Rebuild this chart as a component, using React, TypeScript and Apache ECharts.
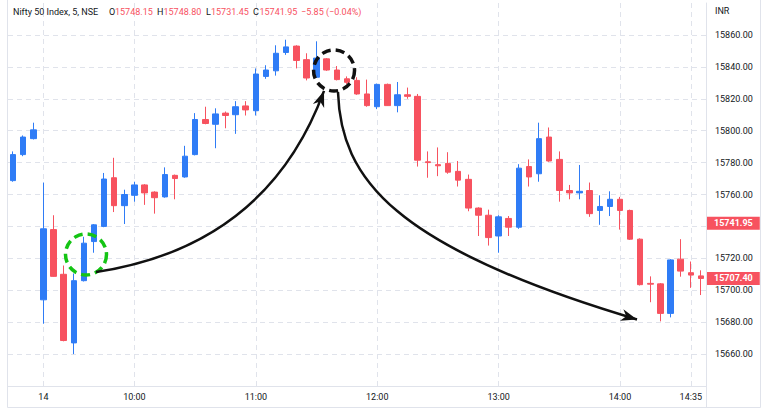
import React, { useEffect, useRef } from 'react';
import * as echarts from 'echarts';

const CATEGORIES = [
  '15:15', '15:20', '15:25',
  '09:15', '09:20', '09:25', '09:30', '09:35', '09:40', '09:45', '09:50', '09:55',
  '10:00', '10:05', '10:10', '10:15', '10:20', '10:25', '10:30', '10:35', '10:40', '10:45', '10:50', '10:55',
  '11:00', '11:05', '11:10', '11:15', '11:20', '11:25', '11:30', '11:35', '11:40', '11:45', '11:50', '11:55',
  '12:00', '12:05', '12:10', '12:15', '12:20', '12:25', '12:30', '12:35', '12:40', '12:45', '12:50', '12:55',
  '13:00', '13:05', '13:10', '13:15', '13:20', '13:25', '13:30', '13:35', '13:40', '13:45', '13:50', '13:55',
  '14:00', '14:05', '14:10', '14:15', '14:20', '14:25', '14:30', '14:35', '14:40',
];

const OPEN = [
  15768.7, 15785, 15795, 15694, 15738, 15710, 15667, 15706, 15730.5, 15740,
  15770.5, 15753, 15759.5, 15766, 15761.5, 15758.5, 15772, 15771, 15785, 15807,
  15804, 15811, 15810, 15815.5, 15812.5, 15834, 15837.5, 15849, 15853, 15844.5,
  15833.5, 15845, 15838, 15832.5, 15831.5, 15823, 15815, 15829, 15815.7, 15822.5,
  15821.5, 15780.5, 15778.7, 15779.5, 15774.5, 15769.5, 15751.5, 15747, 15734, 15745,
  15739.5, 15777.5, 15773, 15796, 15782, 15762.5, 15761, 15762.5, 15750, 15752.5,
  15757, 15750, 15732, 15704.3, 15704, 15685.5, 15719.5, 15711, 15709,
];
const HIGH = [
  15787, 15797, 15805, 15767.5, 15747, 15715.5, 15710.5, 15733.5, 15741.5, 15773.5,
  15783, 15763, 15768, 15766.5, 15762, 15777, 15772.5, 15790.5, 15811, 15815,
  15814, 15812, 15818.5, 15818.5, 15839, 15841, 15853.5, 15857, 15853.5, 15848.5,
  15856, 15845.5, 15840.5, 15834, 15833.5, 15832, 15829.5, 15829.5, 15830.5, 15827,
  15823, 15787, 15789.5, 15786.5, 15781, 15772.5, 15752, 15750.5, 15747, 15746.5,
  15779, 15782, 15805, 15802, 15787, 15766, 15778.5, 15767.5, 15759.5, 15762,
  15758.5, 15750.5, 15732.5, 15708.7, 15704.5, 15719.5, 15732, 15718, 15712.5,
];
const LOW = [
  15768, 15784, 15794.5, 15679, 15708.5, 15668, 15660, 15705.5, 15723.5, 15739.5,
  15749, 15741.5, 15755.5, 15753.5, 15748, 15758, 15757, 15770.5, 15784.5, 15804,
  15789, 15801.5, 15798, 15809.5, 15809.5, 15832.5, 15834.5, 15847.5, 15839, 15831.5,
  15833, 15837.5, 15831.5, 15829.3, 15822.5, 15815, 15813.5, 15815.5, 15811.5, 15820,
  15777.5, 15770.5, 15771.5, 15773, 15765, 15749.5, 15734, 15728, 15723.5, 15734,
  15738.5, 15765, 15768, 15780.5, 15755.5, 15757, 15757, 15746, 15741, 15746.5,
  15738, 15731.5, 15703, 15692.5, 15680.5, 15683, 15708.5, 15701.5, 15697,
];
const CLOSE = [
  15785, 15796, 15800.5, 15738.5, 15708.7, 15668.5, 15706, 15729.5, 15741, 15769.7,
  15753, 15760, 15766, 15761, 15758, 15772.5, 15770, 15784, 15807, 15804.5,
  15810.5, 15809.5, 15815, 15813, 15835.5, 15838, 15848.5, 15852.5, 15844, 15833,
  15845.5, 15838, 15832, 15830.3, 15823, 15815.7, 15829, 15815.7, 15822.5, 15821.5,
  15781.5, 15780, 15778, 15774, 15769, 15751.5, 15747, 15733, 15746, 15739.5,
  15776.5, 15771, 15795, 15781, 15762.5, 15761, 15762, 15748, 15752.5, 15757,
  15750, 15732, 15703.5, 15703.8, 15685.5, 15719, 15712, 15709.5, 15707.4,
];

const X_TICKS = ['09:15', '10:00', '11:00', '12:00', '13:00', '14:00', '14:35'];
const X_TICK_TEXT = ['14', '10:00', '11:00', '12:00', '13:00', '14:00', '14:35'];

const Y_MIN = 15640;
const Y_MAX = 15880;
const Y_STEP = 20;

const PRICE_TAGS = [15741.95, 15707.4];

const HEADER_TITLE = 'Nifty 50 Index, 5, NSE';
const HEADER_O = '15748.15';
const HEADER_H = '15748.80';
const HEADER_L = '15731.45';
const HEADER_C = '15741.95';
const HEADER_CHG = '\u22125.85 (\u22120.04%)';
const CURRENCY = 'INR';

// annotation anchors in data space: [category index, value]
const GREEN_CIRCLE = [7.21, 15722.4];
const BLACK_CIRCLE = [31.73, 15837.7];
const ARROW1 = { start: [8.2, 15711.4], ctrl: [25.1, 15727.7], tip: [30.74, 15824.9] };
const ARROW2 = { start: [32.12, 15824.2], cp1: [32.4, 15770], cp2: [37.6, 15727], tip: [61.68, 15681.7] };

const BLUE = '#2f7cf6';
const RED = '#f7525f';
const GRID = '#e0e3eb';
const TEXT = '#131722';
const FONT = 'Roboto, "Liberation Sans", sans-serif';

function arrowHead(tip: number[], from: number[], L: number, W: number) {
  const dx = tip[0] - from[0];
  const dy = tip[1] - from[1];
  const len = Math.hypot(dx, dy);
  const ux = dx / len, uy = dy / len;
  const nx = -uy, ny = ux;
  const bx = tip[0] - ux * L, by = tip[1] - uy * L;
  return [
    [tip[0], tip[1]],
    [bx + nx * W, by + ny * W],
    [tip[0] - ux * L * 0.7, tip[1] - uy * L * 0.7],
    [bx - nx * W, by - ny * W],
  ];
}

export default function App() {
  const ref = useRef<HTMLDivElement>(null);
  useEffect(() => {
    document.body.style.margin = '0';
    const chart = echarts.init(ref.current!, null, { renderer: 'svg' });
    const data = OPEN.map((o, i) => [o, CLOSE[i], LOW[i], HIGH[i]]);
    chart.setOption({
      animation: false,
      backgroundColor: '#ffffff',
      grid: { left: 8, right: 62, top: 3, bottom: 23 },
      xAxis: {
        type: 'category',
        data: CATEGORIES,
        boundaryGap: true,
        axisLine: { show: true, lineStyle: { color: GRID, width: 1 } },
        axisTick: { show: false },
        axisLabel: {
          interval: (_i: number, v: string) => X_TICKS.includes(v),
          formatter: (v: string) => {
            const k = X_TICKS.indexOf(v);
            return k >= 0 ? X_TICK_TEXT[k] : '';
          },
          color: TEXT,
          fontSize: 9,
          fontFamily: FONT,
          margin: 6,
        },
        splitLine: {
          show: true,
          alignWithLabel: true,
          interval: (_i: number, v: string) => X_TICKS.includes(v),
          lineStyle: { color: GRID, type: [5, 4], width: 1 },
        },
      },
      yAxis: {
        type: 'value',
        position: 'right',
        min: Y_MIN,
        max: Y_MAX,
        interval: Y_STEP,
        axisLine: { show: true, lineStyle: { color: GRID, width: 1 } },
        axisTick: { show: false },
        axisLabel: {
          color: TEXT,
          fontSize: 9,
          fontFamily: FONT,
          margin: 9,
          // a label hidden under a price tag is not drawn, as in the reference
          formatter: (v: number) =>
            v === Y_MIN || v === Y_MAX || PRICE_TAGS.some((t) => Math.abs(t - v) < 5) ? '' : v.toFixed(2),
        },
        splitLine: {
          show: true,
          showMaxLine: false,
          showMinLine: false,
          lineStyle: { color: GRID, type: [5, 4], width: 1 },
        },
      },
      series: [
        {
          type: 'candlestick',
          data,
          barWidth: 6,
          clip: false,
          itemStyle: {
            color: BLUE,
            color0: RED,
            borderColor: BLUE,
            borderColor0: RED,
            borderWidth: 1,
          },
          markLine: {
            silent: true,
            symbol: ['none', 'none'],
            lineStyle: { color: 'rgba(0,0,0,0)', width: 0, type: 'solid' },
            label: {
              show: true,
              position: 'end',
              distance: 1,
              backgroundColor: RED,
              color: '#ffffff',
              fontSize: 9,
              fontWeight: 'bold',
              fontFamily: FONT,
              padding: [2, 7, 2, 7],
              formatter: (p: any) => Number(p.value).toFixed(2),
            },
            data: PRICE_TAGS.map((v) => ({ yAxis: v })),
          },
        },
      ],
    });

    const x0 = chart.convertToPixel({ xAxisIndex: 0 }, CATEGORIES[0]) as number;
    const x1 = chart.convertToPixel({ xAxisIndex: 0 }, CATEGORIES[1]) as number;
    const P = (p: number[]) => [x0 + p[0] * (x1 - x0), chart.convertToPixel({ yAxisIndex: 0 }, p[1]) as number];

    const gc = P(GREEN_CIRCLE);
    const bc = P(BLACK_CIRCLE);
    const a1s = P(ARROW1.start), a1c = P(ARROW1.ctrl), a1t = P(ARROW1.tip);
    const a2s = P(ARROW2.start), a2c1 = P(ARROW2.cp1), a2c2 = P(ARROW2.cp2), a2t = P(ARROW2.tip);

    const hdr = (x: number, text: string, fill: string) => ({
      type: 'text', x, y: 12,
      style: { text, fill, fontSize: 9, fontFamily: FONT, verticalAlign: 'middle', align: 'left' },
    });

    chart.setOption({
      graphic: [
        { type: 'line', shape: { x1: 7.5, y1: 0, x2: 7.5, y2: 407.5 }, style: { stroke: GRID, lineWidth: 1 } },
        { type: 'line', shape: { x1: 7.5, y1: 407.5, x2: 760.5, y2: 407.5 }, style: { stroke: GRID, lineWidth: 1 } },
        { type: 'line', shape: { x1: 760.5, y1: 0, x2: 760.5, y2: 407.5 }, style: { stroke: GRID, lineWidth: 1 } },
        { type: 'line', shape: { x1: 706.5, y1: 386, x2: 706.5, y2: 407.5 }, style: { stroke: GRID, lineWidth: 1 } },
        hdr(13, HEADER_TITLE, TEXT),
        hdr(109, 'O', TEXT), hdr(115, HEADER_O, RED),
        hdr(157, 'H', TEXT), hdr(163.5, HEADER_H, RED),
        hdr(206, 'L', TEXT), hdr(211, HEADER_L, RED),
        hdr(253, 'C', TEXT), hdr(259.5, HEADER_C, RED),
        hdr(301, HEADER_CHG, RED),
        { type: 'text', x: 715, y: 11, style: { text: CURRENCY, fill: TEXT, fontSize: 9, fontFamily: FONT, verticalAlign: 'middle' } },
        {
          type: 'circle', shape: { cx: gc[0], cy: gc[1], r: 20.5 }, z: 100,
          style: { fill: 'none', stroke: '#14c414', lineWidth: 3.5, lineDash: [9, 5] },
        },
        {
          type: 'circle', shape: { cx: bc[0], cy: bc[1], r: 20.5 }, z: 100,
          style: { fill: 'none', stroke: '#111111', lineWidth: 3.5, lineDash: [9, 5] },
        },
        {
          type: 'bezierCurve', z: 100,
          shape: { x1: a1s[0], y1: a1s[1], cpx1: a1c[0], cpy1: a1c[1], x2: a1t[0], y2: a1t[1] },
          style: { fill: 'none', stroke: '#111111', lineWidth: 2.5 },
        },
        {
          type: 'polygon', z: 101,
          shape: { points: arrowHead(a1t, a1c, 16, 6) },
          style: { fill: '#111111' },
        },
        {
          type: 'bezierCurve', z: 100,
          shape: { x1: a2s[0], y1: a2s[1], cpx1: a2c1[0], cpy1: a2c1[1], cpx2: a2c2[0], cpy2: a2c2[1], x2: a2t[0], y2: a2t[1] },
          style: { fill: 'none', stroke: '#111111', lineWidth: 2.5 },
        },
        {
          type: 'polygon', z: 101,
          shape: { points: arrowHead(a2t, a2c2, 16, 6) },
          style: { fill: '#111111' },
        },
      ],
    });

    return () => chart.dispose();
  }, []);
  return <div ref={ref} style={{ width: 768, height: 409, position: 'absolute', left: 0, top: 0 }} />;
}
